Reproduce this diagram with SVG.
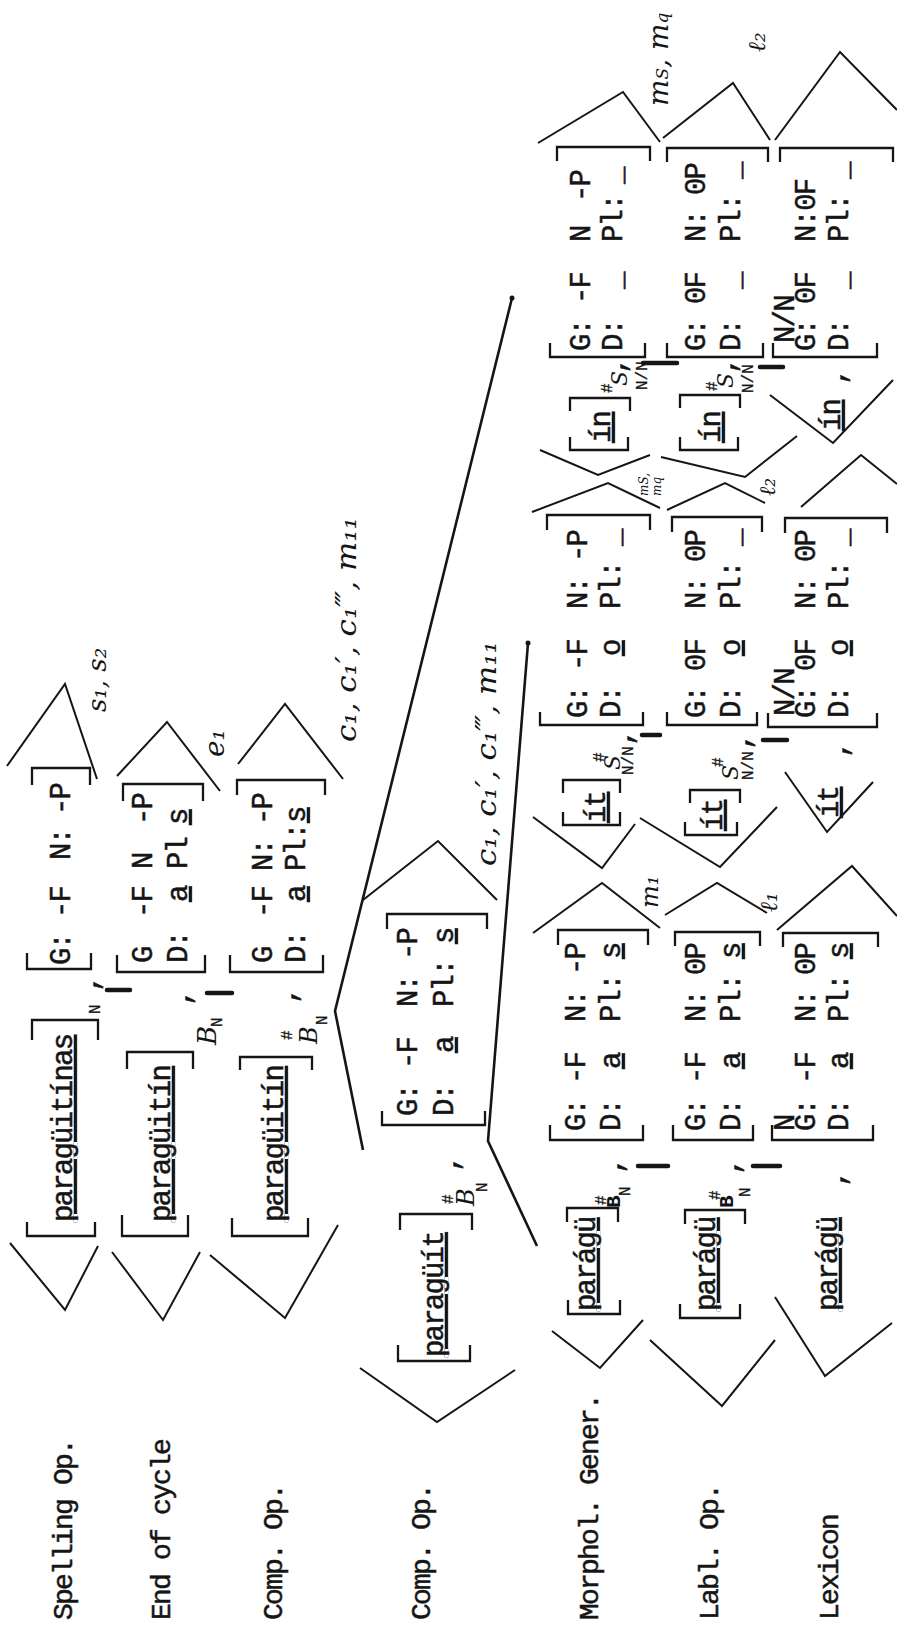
<svg xmlns="http://www.w3.org/2000/svg" width="897" height="1636" viewBox="0 0 897 1636">
<style>
.t{font-family:"Liberation Mono","DejaVu Sans Mono",monospace;font-size:29px;letter-spacing:-1.8px;fill:#151515;stroke:#151515;stroke-width:0.5}
.lb{font-family:"Liberation Mono","DejaVu Sans Mono",monospace;font-size:28px;letter-spacing:-1.8px;fill:#151515;stroke:#151515;stroke-width:0.5}
.s{font-family:"Liberation Mono","DejaVu Sans Mono",monospace;font-size:16px;fill:#151515;stroke:#151515;stroke-width:0.3}
.bb{font-family:"Liberation Mono","DejaVu Sans Mono",monospace;font-size:21px;font-weight:bold;fill:#151515}
.h{font-family:"DejaVu Serif","Liberation Serif",serif;font-style:italic;fill:#151515}
.u{text-decoration:underline}
.l{fill:none;stroke:#151515;stroke-width:2}
.b{fill:none;stroke:#151515;stroke-width:2.3}
.k{stroke:#151515;stroke-width:4.5;stroke-linecap:round}
.c{fill:none;stroke:#151515;stroke-width:2.6}
</style>
<rect width="897" height="1636" fill="#fff"/>

<g id="connectors">
<polyline class="c" points="512,298 335,1011 363,1150"/>
<polyline class="c" points="528,643 488,1141 537,1246"/>
<circle cx="512" cy="298" r="2.5" fill="#151515"/>
<circle cx="528" cy="643" r="2.5" fill="#151515"/>
</g>

<g id="row1">
<polyline class="l" points="10,1243 65,1310 98,1246"/>
<polyline class="b" points="27,1222 27,1236 95,1236 95,1222"/>
<polyline class="b" points="32,1040 32,1020 98,1020 98,1040"/>
<line class="k" x1="107" y1="990" x2="130" y2="990"/>
<polyline class="b" points="27,953 27,969 91,969 91,953"/>
<polyline class="b" points="32,785 32,768 90,768 90,785"/>
<polyline class="l" points="7,766 65,684 97,779"/>
<g transform="translate(0,1636) rotate(-90)">
<text class="lb" x="16" y="72">Spelling Op.</text>
<text class="t u" x="414" y="72">paragüitínas</text>
<text class="s" x="622" y="100">N</text>
<text class="t" x="644" y="98">,</text>
<text class="t" y="70"><tspan x="671">G:</tspan><tspan x="718">-F</tspan><tspan x="776">N:</tspan><tspan x="821">-P</tspan></text>
<text class="h" x="924" y="106" font-size="26">s₁, s₂</text>
</g>
</g>

<g id="row2">
<polyline class="l" points="112,1252 163,1320 200,1252"/>
<polyline class="b" points="122,1215 122,1236 188,1236 188,1215"/>
<polyline class="b" points="127,1069 127,1052 193,1052 193,1069"/>
<line class="k" x1="207" y1="993" x2="232" y2="993"/>
<polyline class="b" points="117,955 117,972 205,972 205,955"/>
<polyline class="b" points="123,801 123,784 203,784 203,801"/>
<polyline class="l" points="117,776 167,722 220,791"/>
<g transform="translate(0,1636) rotate(-90)">
<text class="lb" x="16" y="170">End of cycle</text>
<text class="t u" x="414" y="170">paragüitín</text>
<text class="h" x="591" y="216" font-size="26">B</text>
<text class="s" x="609" y="222">N</text>
<text class="t" x="630" y="190">,</text>
<text class="t" y="152"><tspan x="673">G</tspan><tspan x="718">-F</tspan><tspan x="767">N</tspan><tspan x="811">-P</tspan></text>
<text class="t" y="187"><tspan x="673">D:</tspan><tspan class="u" x="734">a</tspan><tspan x="767">Pl</tspan><tspan class="u" x="811">s</tspan></text>
<text class="h" x="879" y="224" font-size="28">e₁</text>
</g>
</g>

<g id="row3">
<polyline class="l" points="210,1255 285,1318 338,1225"/>
<polyline class="b" points="232,1218 232,1236 308,1236 308,1218"/>
<polyline class="b" points="240,1070 240,1057 312,1057 312,1070"/>
<polyline class="b" points="230,955 230,972 323,972 323,955"/>
<polyline class="b" points="237,795 237,780 325,780 325,795"/>
<polyline class="l" points="238,764 285,704 343,779"/>
<g transform="translate(0,1636) rotate(-90)">
<text class="lb" x="16" y="282">Comp. Op.</text>
<text class="t u" x="414" y="283">paragüitín</text>
<text class="h" x="592" y="317" font-size="24">B</text>
<text class="s" x="596" y="292" font-size="14">#</text>
<text class="s" x="611" y="327">N</text>
<text class="t" x="632" y="296">,</text>
<text class="t" y="272"><tspan x="673">G</tspan><tspan x="718">-F</tspan><tspan x="765">N:</tspan><tspan x="811">-P</tspan></text>
<text class="t" y="305"><tspan x="673">D:</tspan><tspan class="u" x="734">a</tspan><tspan x="765">Pl:</tspan><tspan class="u" x="813">s</tspan></text>
<text class="h" x="894" y="356" font-size="28" textLength="225" lengthAdjust="spacingAndGlyphs">c₁, c₁′, c₁‴, m₁₁</text>
</g>
</g>

<g id="row4">
<polyline class="l" points="360,1368 437,1422 515,1370"/>
<polyline class="b" points="398,1345 398,1361 470,1361 470,1345"/>
<polyline class="b" points="400,1230 400,1214 472,1214 472,1230"/>
<polyline class="b" points="382,1111 382,1125 485,1125 485,1111"/>
<polyline class="b" points="387,929 387,914 487,914 487,929"/>
<polyline class="l" points="363,900 438,841 497,900"/>
<g transform="translate(0,1636) rotate(-90)">
<text class="lb" x="16" y="430">Comp. Op.</text>
<text class="t u" x="279" y="443">paragüít</text>
<text class="h" x="430" y="474" font-size="24">B</text>
<text class="s" x="432" y="453" font-size="14">#</text>
<text class="s" x="444" y="487">N</text>
<text class="t" x="464" y="458">,</text>
<text class="t" y="417"><tspan x="520">G:</tspan><tspan x="567">-F</tspan><tspan x="629">N:</tspan><tspan x="676">-P</tspan></text>
<text class="t" y="453"><tspan x="520">D:</tspan><tspan class="u" x="583">a</tspan><tspan x="629">Pl:</tspan><tspan class="u" x="692">s</tspan></text>
<text class="h" x="770" y="496" font-size="28" textLength="225" lengthAdjust="spacingAndGlyphs">c₁, c₁′, c₁‴, m₁₁</text>
</g>
</g>

<g id="row5">
<polyline class="l" points="552,1331 600,1368 643,1320"/>
<polyline class="b" points="568,1300 568,1314 620,1314 620,1300"/>
<polyline class="b" points="567,1222 567,1208 618,1208 618,1222"/>
<line class="k" x1="638" y1="1166" x2="668" y2="1166"/>
<polyline class="b" points="550,1125 550,1140 643,1140 643,1125"/>
<polyline class="b" points="558,945 558,930 648,930 648,945"/>
<polyline class="l" points="533,933 602,883 660,928"/>
<polyline class="l" points="533,817 602,868 635,824"/>
<polyline class="b" points="563,812 563,825 620,825 620,812"/>
<polyline class="b" points="563,793 563,780 620,780 620,793"/>
<line class="k" x1="642" y1="735" x2="660" y2="735"/>
<polyline class="b" points="540,712 540,725 643,725 643,712"/>
<polyline class="b" points="547,530 547,515 650,515 650,530"/>
<polyline class="l" points="532,512 608,483 660,508"/>
<polyline class="l" points="540,450 598,475 650,455"/>
<polyline class="b" points="570,437 570,450 628,450 628,437"/>
<polyline class="b" points="570,411 570,398 630,398 630,411"/>
<line class="k" x1="643" y1="363" x2="677" y2="363"/>
<polyline class="b" points="550,343 550,357 645,357 645,343"/>
<polyline class="b" points="557,161 557,147 650,147 650,161"/>
<polyline class="l" points="538,143 623,92 660,142"/>
<g transform="translate(0,1636) rotate(-90)">
<text class="lb" x="16" y="598">Morphol. Gener.</text>
<text class="t u" x="325" y="595">parágü</text>
<text class="bb" x="428" y="620">B</text>
<text class="s" x="431" y="606" font-size="14">#</text>
<text class="s" x="440" y="630" font-size="15">N</text>
<text class="t" x="462" y="622">,</text>
<text class="t" y="585"><tspan x="505">G:</tspan><tspan x="552">-F</tspan><tspan x="614">N:</tspan><tspan x="661">-P</tspan></text>
<text class="t" y="620"><tspan x="505">D:</tspan><tspan class="u" x="567">a</tspan><tspan x="614">Pl:</tspan><tspan class="u" x="677">s</tspan></text>
<text class="h" x="728" y="658" font-size="24">m₁</text>
<text class="t u" x="813" y="605">ít</text>
<text class="s" x="874" y="604" font-size="13">#</text>
<text class="h" x="866" y="620" font-size="22">S</text>
<text class="s" x="861" y="633" font-size="12">N/N</text>
<text class="t" x="890" y="632" font-size="20">,</text>
<text class="t" y="587"><tspan x="918">G:</tspan><tspan x="965">-F</tspan><tspan x="1027">N:</tspan><tspan x="1074">-P</tspan></text>
<text class="t" y="620"><tspan x="918">D:</tspan><tspan class="u" x="980">o</tspan><tspan x="1027">Pl:</tspan><tspan x="1090">_</tspan></text>
<text class="h" x="1140" y="648" font-size="12">mS,</text>
<text class="h" x="1140" y="661" font-size="12">mq</text>
<text class="t u" x="1193" y="610">ín</text>
<text class="s" x="1243" y="612" font-size="13">#</text>
<text class="h" x="1250" y="627" font-size="22">S</text>
<text class="s" x="1246" y="647" font-size="12">N/N</text>
<text class="t" x="1262" y="625" font-size="20">,</text>
<text class="t" y="590"><tspan x="1285">G:</tspan><tspan x="1332">-F</tspan><tspan x="1394">N</tspan><tspan x="1434">-P</tspan></text>
<text class="t" y="622"><tspan x="1285">D:</tspan><tspan x="1347">_</tspan><tspan x="1394">Pl:</tspan><tspan x="1452">_</tspan></text>
<text class="h" x="1530" y="668" font-size="28">m<tspan font-size="17">S</tspan>, m<tspan font-size="17">q</tspan></text>
</g>
</g>

<g id="row6">
<polyline class="l" points="650,1340 722,1406 775,1340"/>
<polyline class="b" points="680,1304 680,1318 740,1318 740,1304"/>
<polyline class="b" points="685,1224 685,1210 745,1210 745,1224"/>
<line class="k" x1="753" y1="1166" x2="780" y2="1166"/>
<polyline class="b" points="673,1125 673,1140 753,1140 753,1125"/>
<polyline class="b" points="675,946 675,932 760,932 760,946"/>
<polyline class="l" points="665,915 717,883 767,913"/>
<polyline class="l" points="640,818 720,867 777,807"/>
<polyline class="b" points="685,822 685,835 737,835 737,822"/>
<polyline class="b" points="690,803 690,790 740,790 740,803"/>
<line class="k" x1="763" y1="740" x2="787" y2="740"/>
<polyline class="b" points="667,712 667,725 757,725 757,712"/>
<polyline class="b" points="672,532 672,517 762,517 762,532"/>
<polyline class="l" points="667,510 725,483 765,503"/>
<polyline class="l" points="661,457 745,477 797,436"/>
<polyline class="b" points="680,437 680,450 738,450 738,437"/>
<polyline class="b" points="680,408 680,395 740,395 740,408"/>
<line class="k" x1="760" y1="367" x2="783" y2="367"/>
<polyline class="b" points="667,343 667,357 763,357 763,343"/>
<polyline class="b" points="667,162 667,148 768,148 768,162"/>
<polyline class="l" points="663,138 733,83 770,140"/>
<g transform="translate(0,1636) rotate(-90)">
<text class="lb" x="16" y="718">Labl. Op.</text>
<text class="t u" x="325" y="715">parágü</text>
<text class="bb" x="428" y="733">B</text>
<text class="s" x="436" y="720" font-size="14">#</text>
<text class="s" x="439" y="750" font-size="15">N</text>
<text class="t" x="461" y="739">,</text>
<text class="t" y="705"><tspan x="505">G:</tspan><tspan x="552">-F</tspan><tspan x="614">N:</tspan><tspan x="661">0P</tspan></text>
<text class="t" y="740"><tspan x="505">D:</tspan><tspan class="u" x="567">a</tspan><tspan x="614">Pl:</tspan><tspan class="u" x="677">s</tspan></text>
<text class="h" x="724" y="777" font-size="24">ℓ₁</text>
<text class="t u" x="805" y="722">ít</text>
<text class="s" x="869" y="723" font-size="13">#</text>
<text class="h" x="856" y="738" font-size="22">S</text>
<text class="s" x="856" y="753" font-size="12">N/N</text>
<text class="t" x="886" y="750" font-size="20">,</text>
<text class="t" y="705"><tspan x="918">G:</tspan><tspan x="965">0F</tspan><tspan x="1027">N:</tspan><tspan x="1074">0P</tspan></text>
<text class="t" y="740"><tspan x="918">D:</tspan><tspan class="u" x="980">o</tspan><tspan x="1027">Pl:</tspan><tspan x="1090">_</tspan></text>
<text class="h" x="1140" y="775" font-size="22">ℓ₂</text>
<text class="t u" x="1193" y="720">ín</text>
<text class="s" x="1245" y="717" font-size="13">#</text>
<text class="h" x="1248" y="733" font-size="22">S</text>
<text class="s" x="1243" y="753" font-size="12">N/N</text>
<text class="t" x="1262" y="735" font-size="20">,</text>
<text class="t" y="705"><tspan x="1285">G:</tspan><tspan x="1332">0F</tspan><tspan x="1394">N:</tspan><tspan x="1441">0P</tspan></text>
<text class="t" y="740"><tspan x="1285">D:</tspan><tspan x="1347">_</tspan><tspan x="1394">Pl:</tspan><tspan x="1457">_</tspan></text>
<text class="h" x="1584" y="765" font-size="24">ℓ₂</text>
</g>
</g>

<g id="row7">
<polyline class="l" points="775,1297 825,1376 892,1323"/>
<polyline class="b" points="772,1125 772,1140 873,1140 873,1125"/>
<polyline class="b" points="783,947 783,933 878,933 878,947"/>
<polyline class="l" points="777,930 852,866 897,916"/>
<polyline class="l" points="785,772 827,832 873,782"/>
<polyline class="b" points="768,713 768,727 877,727 877,713"/>
<polyline class="b" points="785,533 785,518 887,518 887,533"/>
<polyline class="l" points="801,507 861,455 897,484"/>
<polyline class="l" points="770,395 833,443 893,380"/>
<polyline class="b" points="773,343 773,357 877,357 877,343"/>
<polyline class="b" points="780,162 780,148 893,148 893,162"/>
<polyline class="l" points="775,140 840,52 897,110"/>
<g transform="translate(0,1636) rotate(-90)">
<text class="lb" x="16" y="838">Lexicon</text>
<text class="t u" x="325" y="837">parágü</text>
<text class="t" x="449" y="845">,</text>
<text class="t" x="505" y="794" font-size="20">N</text>
<text class="t" y="815"><tspan x="505">G:</tspan><tspan x="552">-F</tspan><tspan x="614">N:</tspan><tspan x="661">0P</tspan></text>
<text class="t" y="848"><tspan x="505">D:</tspan><tspan class="u" x="567">a</tspan><tspan x="614">Pl:</tspan><tspan class="u" x="677">s</tspan></text>
<text class="t u" x="818" y="838">ít</text>
<text class="t" x="878" y="847">,</text>
<text class="t" x="920" y="794" font-size="20">N/N</text>
<text class="t" y="815"><tspan x="918">G:</tspan><tspan x="965">0F</tspan><tspan x="1027">N:</tspan><tspan x="1074">0P</tspan></text>
<text class="t" y="848"><tspan x="918">D:</tspan><tspan class="u" x="980">o</tspan><tspan x="1027">Pl:</tspan><tspan x="1090">_</tspan></text>
<text class="t u" x="1205" y="840">ín</text>
<text class="t" x="1251" y="845">,</text>
<text class="t" x="1293" y="794" font-size="20">N/N</text>
<text class="t" y="815"><tspan x="1285">G:</tspan><tspan x="1332">0F</tspan><tspan x="1394">N:0F</tspan></text>
<text class="t" y="848"><tspan x="1285">D:</tspan><tspan x="1347">_</tspan><tspan x="1394">Pl:</tspan><tspan x="1457">_</tspan></text>
</g>
</g>
</svg>
